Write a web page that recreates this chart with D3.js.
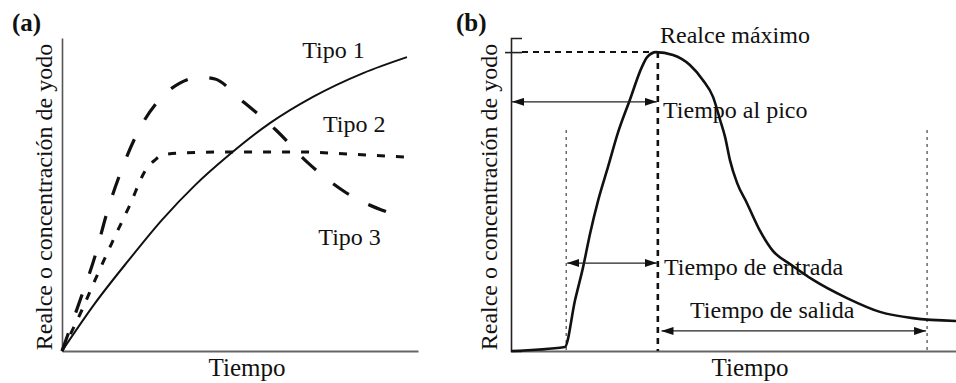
<!DOCTYPE html>
<html><head><meta charset="utf-8">
<script src="https://cdn.jsdelivr.net/npm/d3@7"></script>
<style>
html,body{margin:0;padding:0;background:#fff;}
svg{display:block;}
text{font-family:"Liberation Serif","Times New Roman",serif;fill:#111;}
</style></head>
<body><svg id="c" width="956" height="383"></svg>
<script>
// ---- Panel (a) data ----
const tipo1X = [0, 9.3, 18.8, 28.1, 37.4, 46.9, 58.4, 70.5, 84.6, 96.9];
const tipo1Y = [0, 15.3, 29.1, 41.9, 53.0, 62.6, 72.8, 81.2, 88.8, 93.9];
const tipo2X = [0, 5.6, 9.3, 14.0, 18.8, 23.9, 26.1, 28.1, 33.7, 47.2, 66.9, 80.9, 96.3];
const tipo2Y = [0, 13.1, 22.7, 34.5, 46.0, 58.5, 61.0, 62.6, 63.3, 63.6, 63.6, 62.9, 62.0];
const tipo3X = [0, 5.1, 9.3, 12.6, 16.6, 21.6, 27.5, 33.1, 38.8, 43, 50, 60.1, 69.1, 79.5, 92.7];
const tipo3Y = [0, 16.3, 30.4, 44.1, 57.5, 70.6, 80.5, 85.6, 87.5, 86.9, 80.5, 70.6, 60.1, 50.8, 43.8];
const seriesLabels = ["Tipo 1", "Tipo 2", "Tipo 3"];

// ---- Panel (b) data ----
const curveBX = [0, 12.1, 14.4, 16.2, 17.8, 19.6, 21.8, 24.0, 26.7, 29.4, 30.6, 32.6, 36.4, 40.2, 43.1, 45.4, 47.0, 48.1, 49.2, 50.8, 53.0, 56.0, 58.9, 62.7, 67.9, 75.5, 82.9, 90.3, 100];
const curveBY = [0, 1.3, 16.3, 26.8, 37.7, 48.2, 58.8, 69.6, 80.2, 90.7, 93.9, 95.5, 94.6, 91.4, 86.6, 81.2, 73.8, 68.4, 61.0, 53.7, 47.3, 38.3, 31.9, 27.8, 22.7, 16.9, 12.5, 10.5, 9.6];
const peakX = 33.0, peakY = 95.5;
const arrivalX = 12.4, washoutX = 93.5, guideTopY = 70.6;
const arrowNames = ["Tiempo al pico", "Tiempo de entrada", "Tiempo de salida"];
const arrowY = [79.6, 28.1, 6.4];
const arrowFrom = [0, 12.4, 33.6];
const arrowTo = [33.0, 33.0, 93.5];
const xTitle = "Tiempo";
const yTitle = "Realce o concentración de yodo";

const svg = d3.select("#c");
const defs = svg.append("defs");
["s","e"].forEach(k=>{
  defs.append("marker").attr("id","arr"+k)
    .attr("markerUnits","userSpaceOnUse").attr("viewBox","0 0 12 8")
    .attr("markerWidth",12).attr("markerHeight",8)
    .attr("refX", k==="e"?12:0).attr("refY",4).attr("orient","auto")
    .append("path").attr("d", k==="e" ? "M0,0L12,4L0,8Z" : "M12,0L0,4L12,8Z").attr("fill","#111");
});

// ---------- Panel (a) ----------
const xa = d3.scaleLinear([0,100],[62,418]);
const ya = d3.scaleLinear([0,100],[351,38]);
const ga = svg.append("g");
ga.append("g").attr("transform","translate(0,351)")
  .call(d3.axisBottom(xa).tickValues([]).tickSizeOuter(0))
  .select(".domain").attr("stroke","#666").attr("stroke-width",1.8);
ga.append("g").attr("transform","translate(62,0)")
  .call(d3.axisLeft(ya).tickValues([]).tickSizeOuter(0))
  .select(".domain").attr("stroke","#555").attr("stroke-width",1.6);

const lineA = d3.line().x(d=>xa(d[0])).y(d=>ya(d[1])).curve(d3.curveMonotoneX);
ga.append("path").datum(d3.zip(tipo3X,tipo3Y)).attr("d",lineA)
  .attr("fill","none").attr("stroke","#111").attr("stroke-width",3.2).attr("stroke-dasharray","19,22");
ga.append("path").datum(d3.zip(tipo2X,tipo2Y)).attr("d",lineA)
  .attr("fill","none").attr("stroke","#111").attr("stroke-width",3).attr("stroke-dasharray","8,11");
ga.append("path").datum(d3.zip(tipo1X,tipo1Y)).attr("d",lineA)
  .attr("fill","none").attr("stroke","#111").attr("stroke-width",2);

const labA = [[xa(67.5), 58],[xa(73.3), 132],[xa(72), 245]];
seriesLabels.forEach((t,i)=>{
  ga.append("text").attr("x",labA[i][0]).attr("y",labA[i][1]).attr("font-size",24).text(t);
});
ga.append("text").attr("x",12).attr("y",31).attr("font-size",25).attr("font-weight","bold").text("(a)");
ga.append("text").attr("x",(62+418)/2+7).attr("y",376).attr("text-anchor","middle").attr("font-size",25).text(xTitle);
ga.append("text").attr("transform","translate(52,197) rotate(-90)").attr("text-anchor","middle").attr("font-size",24).text(yTitle);

// ---------- Panel (b) ----------
const xb = d3.scaleLinear([0,100],[511,956]);
const yb = d3.scaleLinear([0,100],[351,38]);
const gb = svg.append("g");
gb.append("g").attr("transform","translate(0,351)")
  .call(d3.axisBottom(xb).tickValues([]).tickSizeOuter(0))
  .select(".domain").attr("stroke","#666").attr("stroke-width",1.8);
const yAx = gb.append("g").attr("transform","translate(511,0)")
  .call(d3.axisLeft(yb).tickValues([peakY]).tickFormat("").tickSizeOuter(0).tickSize(-11));
yAx.select(".domain").attr("stroke","#222").attr("stroke-width",1.6);
yAx.selectAll(".tick line").attr("x1",-6).attr("stroke","#222").attr("stroke-width",1.6);

// guides
gb.append("line").attr("x1",xb(0)+11).attr("x2",xb(peakX)).attr("y1",yb(peakY)).attr("y2",yb(peakY))
  .attr("stroke","#111").attr("stroke-width",2).attr("stroke-dasharray","6,5");
gb.append("line").attr("x1",xb(peakX)).attr("x2",xb(peakX)).attr("y1",yb(peakY)).attr("y2",yb(0))
  .attr("stroke","#111").attr("stroke-width",2.6).attr("stroke-dasharray","6,5");
[arrivalX, washoutX].forEach(v=>{
  gb.append("line").attr("x1",xb(v)).attr("x2",xb(v)).attr("y1",yb(guideTopY)).attr("y2",yb(0))
    .attr("stroke","#333").attr("stroke-width",1.1).attr("stroke-dasharray","3,4");
});

const lineB = d3.line().x(d=>xb(d[0])).y(d=>yb(d[1])).curve(d3.curveMonotoneX);
gb.append("path").datum(d3.zip(curveBX,curveBY)).attr("d",lineB)
  .attr("fill","none").attr("stroke","#111").attr("stroke-width",2.6);

arrowNames.forEach((t,i)=>{
  gb.append("line").attr("x1",xb(arrowFrom[i])+1).attr("x2",xb(arrowTo[i])-1)
    .attr("y1",yb(arrowY[i])).attr("y2",yb(arrowY[i]))
    .attr("stroke","#222").attr("stroke-width",1.3)
    .attr("marker-start","url(#arrs)").attr("marker-end","url(#arre)");
});
gb.append("text").attr("x",663).attr("y",118).attr("font-size",24).text(arrowNames[0]);
gb.append("text").attr("x",664).attr("y",275).attr("font-size",24).text(arrowNames[1]);
gb.append("text").attr("x",690).attr("y",318).attr("font-size",24).text(arrowNames[2]);
gb.append("text").attr("x",660).attr("y",43).attr("font-size",24).text("Realce máximo");
gb.append("text").attr("x",456).attr("y",31).attr("font-size",25).attr("font-weight","bold").text("(b)");
gb.append("text").attr("x",750).attr("y",376).attr("text-anchor","middle").attr("font-size",25).text(xTitle);
gb.append("text").attr("transform","translate(497,197) rotate(-90)").attr("text-anchor","middle").attr("font-size",24).text(yTitle);
</script></body></html>
